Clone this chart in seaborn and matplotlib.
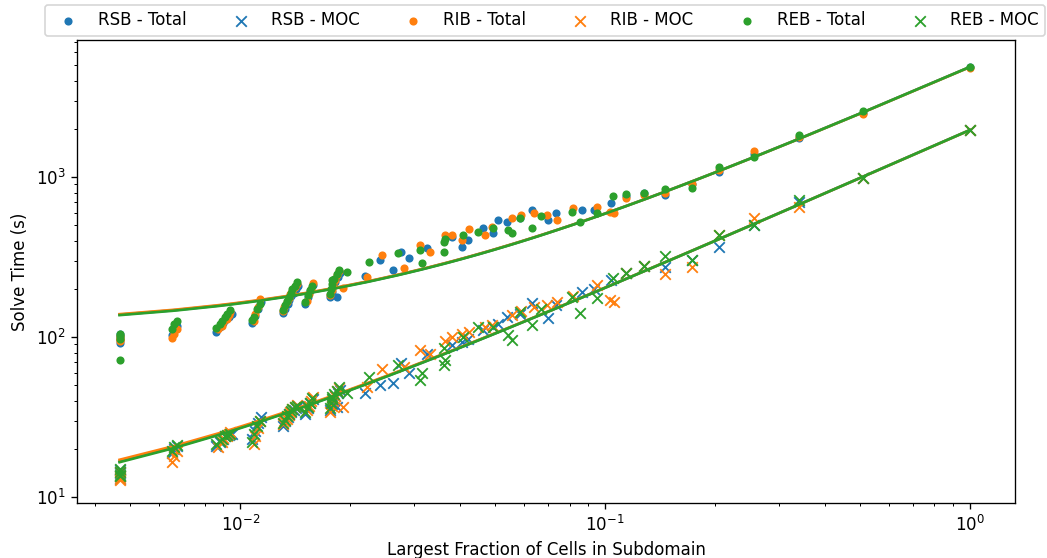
import numpy as np
import matplotlib
matplotlib.use("Agg")
import matplotlib.pyplot as plt
import seaborn as sns

# ---------------- data ----------------
rsb_x = [0.00467, 0.00467, 0.00467, 0.00467,
         0.0065, 0.0066, 0.0067,
         0.0086, 0.0088, 0.0090, 0.0091, 0.0093, 0.0095,
         0.0108, 0.0110, 0.0112, 0.0114,
         0.0131, 0.0133, 0.0135, 0.0136, 0.0138, 0.0140, 0.0142, 0.0144,
         0.0151, 0.0153, 0.0155, 0.0158,
         0.0176, 0.0178, 0.0180, 0.0182, 0.0185, 0.0188,
         0.0184, 0.0220, 0.0241, 0.0262, 0.0276, 0.0290, 0.0326, 0.0381, 0.0405, 0.0422,
         0.0464, 0.0493, 0.0508, 0.0539, 0.0584, 0.0632, 0.0698, 0.0734, 0.0866, 0.0930,
         0.104, 0.114, 0.128, 0.146, 0.173, 0.205, 0.256, 0.340, 0.509, 1.0]
rsb_total = [96, 100, 104, 92,
             103, 110, 118,
             108, 115, 122, 128, 134, 140,
             122, 135, 150, 165,
             142, 150, 160, 170, 180, 190, 200, 210,
             160, 178, 195, 212,
             178, 192, 208, 222, 238, 252,
             178, 240, 303, 262, 339, 312, 360, 421, 365, 404,
             480, 447, 538, 525, 555, 620, 538, 595, 620, 620,
             688, 760, 790, 775, 900, 1080, 1400, 1760, 2520, 4870]
rsb_moc = [13.5, 14.2, 14.8, 13.0,
           19, 20, 21,
           21, 22, 23, 24, 24.5, 25,
           23, 26, 29, 31.5,
           28, 30, 31.5, 33, 34, 35, 36, 37,
           33, 36, 39, 41,
           35, 38, 41, 43, 45, 47,
           36.6, 44.7, 50, 51.6, 68.8, 60, 79, 89, 93, 98,
           110, 115, 120, 133, 140, 163, 131, 158, 191, 200,
           228, 250, 278, 274, 303, 365, 500, 700, 986, 1966]

rib_x = [0.00467, 0.00467, 0.00467, 0.00467,
         0.0065, 0.0066, 0.0067,
         0.0087, 0.0089, 0.0090, 0.0092, 0.0093, 0.0094,
         0.0109, 0.0110, 0.0112, 0.0113,
         0.0131, 0.0132, 0.0134, 0.0136, 0.0137, 0.0139, 0.0141, 0.0143,
         0.0152, 0.0154, 0.0156, 0.0158,
         0.0176, 0.0178, 0.0180, 0.0182, 0.0184, 0.0187,
         0.0191, 0.0223, 0.0245, 0.0282, 0.0312, 0.0332, 0.0365, 0.0381, 0.0405, 0.0425,
         0.0470, 0.0490, 0.0555, 0.0588, 0.0640, 0.0695, 0.0739, 0.0818, 0.0950, 0.103,
         0.106, 0.114, 0.128, 0.146, 0.173, 0.205, 0.256, 0.340, 0.509, 1.0]
rib_total = [94, 98, 102, 97,
             99, 104, 112,
             112, 118, 124, 130, 137, 144,
             126, 140, 155, 172,
             145, 155, 165, 175, 185, 195, 205, 215,
             168, 185, 200, 218,
             182, 198, 212, 228, 244, 258,
             202, 237, 325, 270, 376, 339, 433, 433, 404, 473,
             433, 487, 555, 580, 595, 580, 538, 640, 650, 604,
             595, 740, 770, 800, 910, 1100, 1460, 1780, 2480, 4800]
rib_moc = [12.8, 13.6, 14.4, 13.2,
           16.5, 18, 19.5,
           20.5, 22, 23.5, 24, 25, 25.5,
           21.5, 24, 27, 30,
           28.5, 30, 31, 32.5, 34, 35.5, 36.5, 37.5,
           35, 37, 40, 42,
           34, 37, 40, 43, 46, 48,
           36.6, 48.7, 63, 65, 83, 79, 95, 100, 104, 108,
           115, 119, 137, 145, 154, 158, 165, 180, 211, 170,
           166, 250, 278, 248, 274, 432, 555, 650, 986, 1966]

reb_x = [0.00467, 0.00467, 0.00467, 0.00467,
         0.0065, 0.0066, 0.0067,
         0.0086, 0.0088, 0.0089, 0.0091, 0.0092, 0.0094,
         0.0108, 0.0109, 0.0111, 0.0113,
         0.0131, 0.0133, 0.0134, 0.0136, 0.0138, 0.0139, 0.0141, 0.0143,
         0.0151, 0.0153, 0.0155, 0.0157,
         0.0176, 0.0177, 0.0179, 0.0181, 0.0184, 0.0186,
         0.0179, 0.0196, 0.0225, 0.0270, 0.0312, 0.0315, 0.0361, 0.0363, 0.0365, 0.0408,
         0.0450, 0.0493, 0.0541, 0.0555, 0.0584, 0.0632, 0.0667, 0.0812, 0.0854, 0.0948,
         0.105, 0.114, 0.128, 0.146, 0.173, 0.205, 0.256, 0.340, 0.509, 1.0]
reb_total = [97, 101, 105, 72,
             113, 120, 126,
             114, 120, 127, 133, 140, 148,
             128, 133, 150, 160,
             148, 158, 168, 178, 190, 200, 210, 220,
             165, 182, 198, 208,
             185, 200, 215, 232, 248, 262,
             227, 255, 294, 335, 350, 290, 339, 392, 410, 433,
             454, 480, 467, 447, 555, 480, 570, 604, 525, 595,
             760, 780, 800, 840, 853, 1155, 1330, 1830, 2600, 4870]
reb_moc = [13.6, 14.4, 15.0, 13.8,
           19.5, 20.5, 21.2,
           21.5, 22.5, 23, 24, 24.5, 25,
           22, 25, 28, 30,
           29, 30.5, 32, 33, 34.5, 35.5, 36.5, 37,
           34, 36.5, 39, 41.5,
           36, 39, 41, 44, 46, 49,
           42, 45, 56, 67, 54, 60, 67, 85, 72, 100,
           116, 116, 103, 96, 143, 119, 150, 178, 141, 175,
           233, 250, 278, 320, 303, 432, 500, 717, 986, 1966]

# linear fit coefficients (intercept, slope)
rsb_total_fit = [116, 4754]
rib_total_fit = [117, 4745]
reb_total_fit = [115, 4755]
rsb_moc_fit = [7.6, 1958]
rib_moc_fit = [8.0, 1956]
reb_moc_fit = [7.4, 1958]

methods = ["RSB", "RIB", "REB"]
series = {"RSB": (rsb_x, rsb_total, rsb_moc, rsb_total_fit, rsb_moc_fit),
          "RIB": (rib_x, rib_total, rib_moc, rib_total_fit, rib_moc_fit),
          "REB": (reb_x, reb_total, reb_moc, reb_total_fit, reb_moc_fit)}
colors = {"RSB": "#1f77b4", "RIB": "#ff7f0e", "REB": "#2ca02c"}

# ---------------- figure ----------------
fig = plt.figure(figsize=(1047 / 120, 558 / 120), dpi=120)
ax = fig.add_axes([77 / 1047, 1 - 503 / 558, (1015 - 77) / 1047, (503 - 40) / 558])

for m in methods:
    x, tot, moc, tfit, mfit = series[m]
    x = np.asarray(x, dtype=float)
    c = colors[m]
    sns.scatterplot(x=x, y=tot, marker=".", s=60, color=c, edgecolor=c,
                    linewidth=1.0, label=f"{m} - Total", ax=ax, legend=False, zorder=2)
    sns.scatterplot(x=x, y=moc, marker="x", s=40, color=c,
                    linewidth=1.1, label=f"{m} - MOC", ax=ax, legend=False, zorder=2)
    xs = np.sort(x)
    sns.lineplot(x=xs, y=tfit[0] + tfit[1] * xs, color=c, lw=1.6, estimator=None,
                 sort=False, ax=ax, zorder=2)
    sns.lineplot(x=xs, y=mfit[0] + mfit[1] * xs, color=c, lw=1.6, estimator=None,
                 sort=False, ax=ax, zorder=2)

if ax.get_legend() is not None:
    ax.get_legend().remove()

ax.set_xscale("log")
ax.set_yscale("log")
ax.set_xlim(0.00357, 1.33)
ax.set_ylim(9.2, 7180)
ax.set_xlabel("Largest Fraction of Cells in Subdomain")
ax.set_ylabel("Solve Time (s)")

handles, labels = ax.get_legend_handles_labels()
fig.legend(handles, labels, loc="lower left", ncol=6, mode="expand",
           bbox_to_anchor=(45 / 1047, 1 - 36 / 558, 1000 / 1047, 0.05),
           borderaxespad=0.0)

fig.savefig("out.png", dpi=120)
